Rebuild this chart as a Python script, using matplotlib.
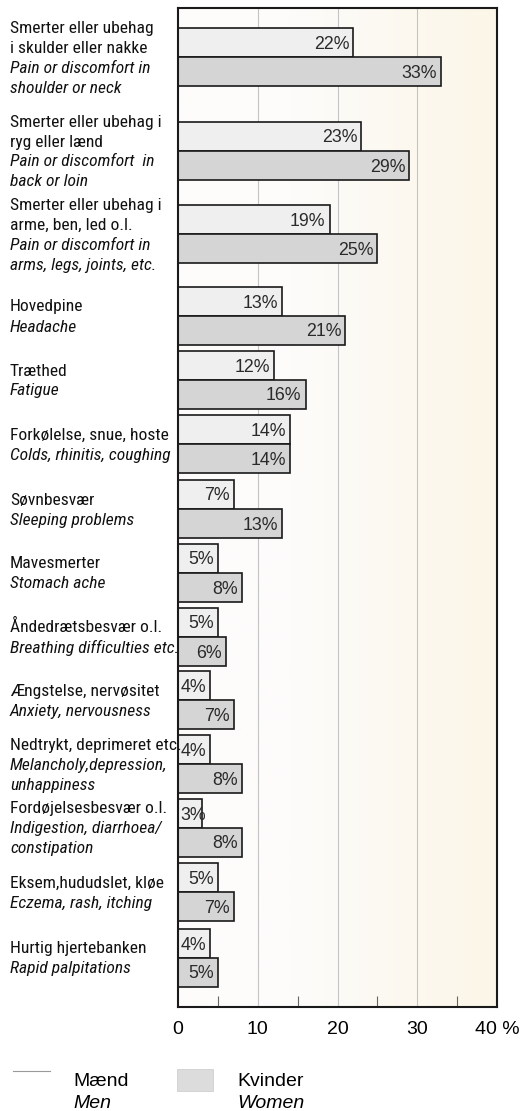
import numpy as np
import matplotlib.pyplot as plt
from matplotlib import transforms
from matplotlib.patches import Rectangle
from matplotlib.lines import Line2D
from matplotlib.font_manager import findfont, FontProperties

# --- data (percent) ---
labels_dk = [
    "Smerter eller ubehag\ni skulder eller nakke",
    "Smerter eller ubehag i\nryg eller lænd",
    "Smerter eller ubehag i\narme, ben, led o.l.",
    "Hovedpine",
    "Træthed",
    "Forkølelse, snue, hoste",
    "Søvnbesvær",
    "Mavesmerter",
    "Åndedrætsbesvær o.l.",
    "Ængstelse, nervøsitet",
    "Nedtrykt, deprimeret etc.",
    "Fordøjelsesbesvær o.l.",
    "Eksem,hududslet, kløe",
    "Hurtig hjertebanken",
]
labels_en = [
    "Pain or discomfort in\nshoulder or neck",
    "Pain or discomfort  in\nback or loin",
    "Pain or discomfort in\narms, legs, joints, etc.",
    "Headache",
    "Fatigue",
    "Colds, rhinitis, coughing",
    "Sleeping problems",
    "Stomach ache",
    "Breathing difficulties etc.",
    "Anxiety, nervousness",
    "Melancholy,depression,\nunhappiness",
    "Indigestion, diarrhoea/\nconstipation",
    "Eczema, rash, itching",
    "Rapid palpitations",
]
men = [22, 23, 19, 13, 12, 14, 7, 5, 5, 4, 4, 3, 5, 4]
women = [33, 29, 25, 21, 16, 14, 13, 8, 6, 7, 8, 8, 7, 5]
xticks = [0, 10, 20, 30, 40]
xticklabels = ["0", "10", "20", "30", "40 %"]

# --- layout: row centres in image-pixel units (y axis runs top -> bottom) ---
row_y = [57, 150.5, 234, 315.5, 379.5, 444, 508.5, 572.5, 636.5, 700, 764, 827.5, 892, 957.5]
bar_h = 29
W, H = 531, 1111


def pick_narrow():
    # the original uses a condensed Helvetica; use one if installed
    for fam in ["Liberation Sans Narrow", "Roboto Condensed", "Open Sans Condensed",
                "Noto Sans Condensed", "DejaVu Sans Condensed"]:
        try:
            findfont(FontProperties(family=fam), fallback_to_default=False)
            return [fam, "DejaVu Sans"], 1.0
        except ValueError:
            pass
    return ["Liberation Sans", "DejaVu Sans"], 0.82


narrow, k = pick_narrow()
regular = ["Liberation Sans", "DejaVu Sans"]

fig = plt.figure(figsize=(W / 100, H / 100), dpi=100)
ax = fig.add_axes([178 / W, 1 - 1007 / H, 319 / W, 999 / H])
ax.set_xlim(0, 40)
ax.set_ylim(1007, 8)

# creamy background, white on the left
grad = np.clip((np.linspace(0, 1, 256) - 0.35) / 0.65, 0, 1)
c0 = np.array([253, 252, 251]) / 255
c1 = np.array([252, 246, 232]) / 255
img = c0[None, :] * (1 - grad[:, None]) + c1[None, :] * grad[:, None]
ax.imshow(img[None, :, :], extent=[0, 40, 1007, 8], aspect="auto", zorder=0)

for gx in [10, 20, 30]:
    ax.axvline(gx, color="#c4c4c4", lw=0.8, zorder=1)

y = np.array(row_y)
ax.barh(y - bar_h / 2, men, height=bar_h, color="#efefef", edgecolor="#1a1a1a",
        linewidth=1.2, zorder=2)
ax.barh(y + bar_h / 2, women, height=bar_h, color="#d5d5d5", edgecolor="#1a1a1a",
        linewidth=1.2, zorder=2)

val_fs = 12.8
for yy, v in zip(y - bar_h / 2, men):
    if v < 4:
        ax.text(0.3, yy + 6.5, f"{v}%", ha="left", va="baseline", fontsize=val_fs,
                family=regular, color="#2a2a2a", zorder=3)
    else:
        ax.text(v - 0.5, yy + 6.5, f"{v}%", ha="right", va="baseline", fontsize=val_fs,
                family=regular, color="#2a2a2a", zorder=3)
for yy, v in zip(y + bar_h / 2, women):
    ax.text(v - 0.5, yy + 6.5, f"{v}%", ha="right", va="baseline", fontsize=val_fs,
            family=regular, color="#2a2a2a", zorder=3)

# category labels, Danish upright + English italic, centred on each row
trans = transforms.blended_transform_factory(fig.transFigure, ax.transData)
line_h = 20
lab_fs = 12.6 * k
for c, dk, en in zip(row_y, labels_dk, labels_en):
    lines = [(t, "normal") for t in dk.split("\n")] + [(t, "italic") for t in en.split("\n")]
    n = len(lines)
    for i, (t, st) in enumerate(lines):
        yy = c + (i - (n - 1) / 2) * line_h + 6
        ax.text(10 / W, yy, t, transform=trans, ha="left", va="baseline",
                fontsize=lab_fs, style=st, family=narrow, color="#111111")

# axes styling
for s in ax.spines.values():
    s.set_linewidth(1.5)
    s.set_color("#1a1a1a")
ax.set_yticks([])
ax.set_xticks(xticks)
ax.set_xticklabels(xticklabels, family=regular, fontsize=14)
ax.set_xticks([5, 15, 25, 35], minor=True)
ax.tick_params(axis="x", which="major", length=0, pad=10)
ax.tick_params(axis="x", which="minor", direction="in", length=8, width=0.8, color="#666666")

# legend drawn by hand at the bottom
fig.add_artist(Line2D([13 / W, 50 / W], [1 - 1071 / H] * 2, color="#9a9a9a", lw=0.8))
fig.add_artist(Rectangle((177 / W, 1 - 1091 / H), 36 / W, 22 / H, facecolor="#dcdcdc",
                         edgecolor="#d0d0d0", lw=0.6))
for x0, dk, en in [(73, "Mænd", "Men"), (237, "Kvinder", "Women")]:
    fig.text(x0 / W, 1 - 1086 / H, dk, ha="left", va="baseline", fontsize=14, family=regular)
    fig.text(x0 / W, 1 - 1108 / H, en, ha="left", va="baseline", fontsize=14,
             family=regular, style="italic")

fig.savefig("out.png", dpi=100)
